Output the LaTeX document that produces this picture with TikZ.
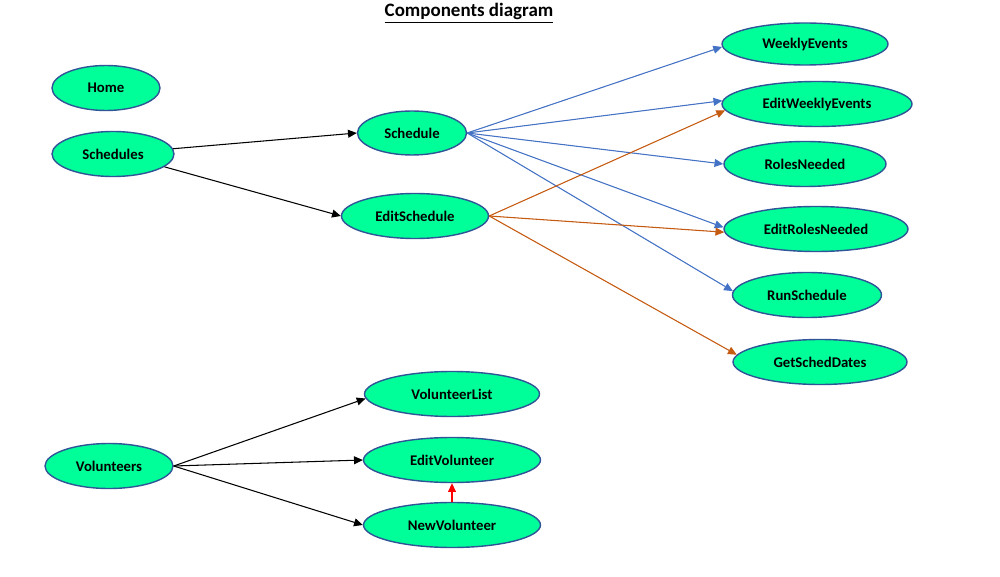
\documentclass[tikz,border=0pt]{standalone}
\usepackage{fontspec}
\setmainfont{Carlito}
\usepackage{tikz}
\usetikzlibrary{arrows.meta,shapes.geometric}
\definecolor{fillg}{HTML}{00FF99}
\definecolor{edge}{HTML}{2F5597}
\definecolor{bluel}{HTML}{4472C4}
\definecolor{orng}{HTML}{C55A11}
\tikzset{
  comp/.style={ellipse, draw=edge, fill=fillg, line width=0.8pt, inner sep=0pt,
    minimum height=0.9cm, font=\fontsize{8.4}{9}\selectfont\bfseries},
  blk/.style={draw=black, line width=0.6pt, -{Triangle[length=5pt,width=4.5pt]}},
  blu/.style={draw=bluel, line width=0.6pt, -{Triangle[length=5pt,width=4.5pt]}, fill=bluel},
  org/.style={draw=orng, line width=0.6pt, -{Triangle[length=5pt,width=4.5pt]}, fill=orng},
  redarr/.style={draw=red, line width=0.6pt, -{Triangle[length=5pt,width=4.5pt]}, fill=red},
  ttl/.style={font=\fontsize{10.8}{12}\selectfont\bfseries},
}
\begin{document}
\begin{tikzpicture}[x=0.02cm, y=-0.02cm]
  \useasboundingbox (0,0) rectangle (1000,577);
  \node[ttl] (title) at (469,13) {\underline{Components diagram}};
  % left column
  \node[comp, minimum width=2.16cm] (Home) at (106,88) {Home};
  \node[comp, minimum width=2.44cm] (Schedules) at (113,154) {Schedules};
  \node[comp, minimum width=2.56cm] (Volunteers) at (109,466) {Volunteers};
  % middle column
  \node[comp, minimum width=2.18cm, minimum height=0.88cm] (Schedule) at (412,133) {Schedule};
  \node[comp, minimum width=2.94cm] (EditSchedule) at (415,216) {EditSchedule};
  \node[comp, minimum width=3.5cm] (VolunteerList) at (452,394) {VolunteerList};
  \node[comp, minimum width=3.54cm] (EditVolunteer) at (452,460) {EditVolunteer};
  \node[comp, minimum width=3.54cm] (NewVolunteer) at (452,525) {NewVolunteer};
  % right column
  \node[comp, minimum width=3.32cm, minimum height=0.84cm] (WeeklyEvents) at (805,44) {WeeklyEvents};
  \node[comp, minimum width=3.8cm] (EditWeeklyEvents) at (817,104) {EditWeeklyEvents};
  \node[comp, minimum width=3.24cm] (RolesNeeded) at (805,164) {RolesNeeded};
  \node[comp, minimum width=3.68cm] (EditRolesNeeded) at (816,229) {EditRolesNeeded};
  \node[comp, minimum width=2.98cm] (RunSchedule) at (807,295) {RunSchedule};
  \node[comp, minimum width=3.48cm] (GetSchedDates) at (820,362) {GetSchedDates};
  % connectors
  \draw[blk] (Schedules.5) -- (Schedule.west);
  \draw[blk] (Schedules.-14) -- (EditSchedule.west);
  \foreach \t/\a in {WeeklyEvents/182,EditWeeklyEvents/178,RolesNeeded/180,EditRolesNeeded/179,RunSchedule/177}
    \draw[blu] (Schedule.east) -- (\t.\a);
  \foreach \t/\a in {EditWeeklyEvents/184,EditRolesNeeded/182,GetSchedDates/175}
    \draw[org] (EditSchedule.east) -- (\t.\a);
  \foreach \t/\a in {VolunteerList/183,EditVolunteer/180,NewVolunteer/180}
    \draw[blk] (Volunteers.east) -- (\t.\a);
  \draw[redarr] (NewVolunteer.north) -- (EditVolunteer.south);
\end{tikzpicture}
\end{document}
